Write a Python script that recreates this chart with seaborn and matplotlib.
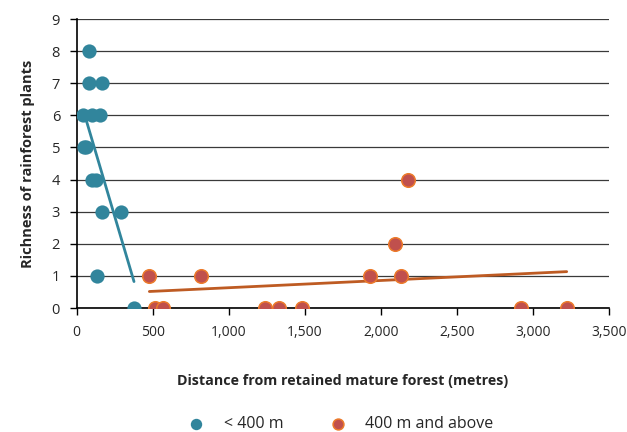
import numpy as np
import pandas as pd
import matplotlib
matplotlib.use("Agg")
import matplotlib.pyplot as plt
import seaborn as sns

# distances (m) and richness
near_x = [83, 79, 168, 44, 103, 153, 48, 62, 103, 126, 164, 291, 134, 377]
near_y = [8, 7, 7, 6, 6, 6, 5, 5, 4, 4, 3, 3, 1, 0]
far_x = [478, 818, 1930, 2134, 2094, 2181, 515, 570, 1239, 1333, 1480, 2923, 3223]
far_y = [1, 1, 1, 1, 2, 4, 0, 0, 0, 0, 0, 0, 0]
x_ticks = [0, 500, 1000, 1500, 2000, 2500, 3000, 3500]
y_ticks = list(range(0, 10))

BLUE = "#31859C"
RED = "#C0504D"
ORANGE = "#EC7A2A"
BROWN = "#BE5B23"

sns.set_theme(style="white")
plt.rcParams["font.family"] = ["Open Sans", "DejaVu Sans"]

near = pd.DataFrame({"dist": near_x, "rich": near_y})
far = pd.DataFrame({"dist": far_x, "rich": far_y})

fig = plt.figure(figsize=(6.27, 4.32), dpi=100)
ax = fig.add_axes([0.1223, 0.287, 0.8487, 0.669])

for y in y_ticks:
    ax.axhline(y, color="#3a3a3a", lw=0.9, zorder=0)

sns.scatterplot(data=near, x="dist", y="rich", ax=ax, color=BLUE, s=105,
                edgecolor=BLUE, linewidth=0, label="< 400 m", zorder=3)
sns.scatterplot(data=far, x="dist", y="rich", ax=ax, color=RED, s=95,
                edgecolor=ORANGE, linewidth=1.1, label="400 m and above", zorder=3)

sns.regplot(data=near, x="dist", y="rich", ax=ax, scatter=False, ci=None,
            truncate=True, line_kws={"color": BLUE, "lw": 2, "zorder": 2})
sns.regplot(data=far, x="dist", y="rich", ax=ax, scatter=False, ci=None,
            truncate=True, line_kws={"color": BROWN, "lw": 2, "zorder": 2})

ax.set_xlim(0, 3500)
ax.set_ylim(0, 9)
ax.set_xticks(x_ticks)
ax.set_xticklabels([f"{v:,}" for v in x_ticks], fontsize=10)
ax.set_yticks(y_ticks)
ax.set_yticklabels([str(v) for v in y_ticks], fontsize=10.5)
ax.tick_params(axis="both", direction="out", length=5, width=1, color="black",
               bottom=True, left=True, pad=7)
for side in ["top", "right"]:
    ax.spines[side].set_visible(False)
for side in ["left", "bottom"]:
    ax.spines[side].set_color("black")
    ax.spines[side].set_linewidth(1.2)

ax.set_xlabel("Distance from retained mature forest (metres)", fontsize=10.3,
              fontweight="bold", labelpad=25)
ax.set_ylabel("Richness of rainforest plants", fontsize=10.5, fontweight="bold",
              labelpad=12)

handles, labels = ax.get_legend_handles_labels()
ax.legend_.remove()
fig.legend(handles, labels, loc="center", bbox_to_anchor=(0.537, 0.018),
           ncol=2, frameon=False, fontsize=11.5, columnspacing=2.4,
           handletextpad=0.7, markerscale=0.8)

fig.savefig("out.png", dpi=100)
